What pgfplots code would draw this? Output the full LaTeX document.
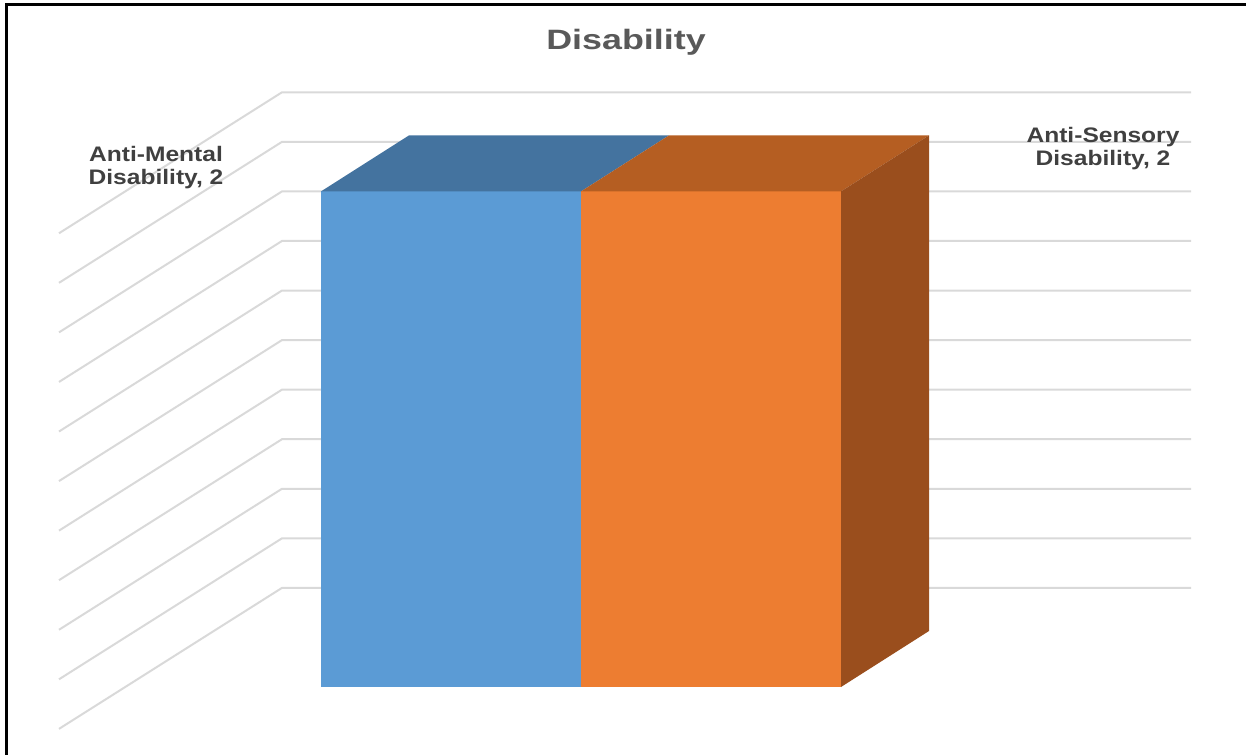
\documentclass[border=0pt]{standalone}
\usepackage{pgfplots}
\pgfplotsset{compat=1.18}
\usepackage{graphicx}
\usepackage{fontspec}
\setmainfont{Liberation Sans}
\definecolor{gridc}{HTML}{D9D9D9}
\definecolor{bfront}{HTML}{5B9BD5}
\definecolor{btop}{HTML}{44739F}
\definecolor{ofront}{HTML}{ED7D31}
\definecolor{otop}{HTML}{B55E22}
\definecolor{oside}{HTML}{9A4E1D}
\definecolor{titlec}{HTML}{595959}
\definecolor{labc}{HTML}{404040}
\newcommand{\hs}[1]{\scalebox{1.17}[1]{#1}}
\begin{document}
\begin{tikzpicture}
\begin{axis}[
  scale only axis, width=623bp, height=377.5bp,
  xmin=0, xmax=1246, ymin=-0.2744, ymax=2.7724,
  hide axis, clip=false,
]
% border (left and top)
\addplot[black, line width=1.5bp, forget plot] coordinates {(6,-0.2744) (6,2.7522) (1246,2.7522)};
% back wall grid lines
\foreach \v in {0.4,0.6,0.8,1.0,1.2,1.4,1.6,1.8,2.0,2.2,2.4}{
  \edef\tmp{\noexpand\addplot[gridc, line width=1bp, forget plot] coordinates {(59,\v-0.569) (282,\v) (1191,\v)};}
  \tmp
}
% blue bar (Anti-Mental Disability = 2)
\addplot[fill=bfront, draw=none, forget plot] coordinates {(321,0) (581,0) (581,2) (321,2)} -- cycle;
\addplot[fill=btop, draw=none, forget plot] coordinates {(321,2) (581,2) (669,2.226) (409,2.226)} -- cycle;
% orange bar (Anti-Sensory Disability = 2)
\addplot[fill=ofront, draw=none, forget plot] coordinates {(581,0) (841,0) (841,2) (581,2)} -- cycle;
\addplot[fill=otop, draw=none, forget plot] coordinates {(581,2) (841,2) (929,2.226) (669,2.226)} -- cycle;
\addplot[fill=oside, draw=none, forget plot] coordinates {(841,0) (929,0.226) (929,2.226) (841,2)} -- cycle;
% title and labels
\node[font=\bfseries\fontsize{14bp}{17bp}\selectfont, text=titlec, anchor=base] at (axis cs:626,{(687-50)/247.8}) {\scalebox{1.28}[1]{Disability}};
\node[font=\bfseries\fontsize{10.5bp}{11.5bp}\selectfont, text=labc, align=center, anchor=base] at (axis cs:156,{(687-185)/247.8}) {\hs{Anti-Mental}\\\hs{Disability, 2}};
\node[font=\bfseries\fontsize{10.5bp}{11.5bp}\selectfont, text=labc, align=center, anchor=base] at (axis cs:1103,{(687-166)/247.8}) {\hs{Anti-Sensory}\\\hs{Disability, 2}};
\end{axis}
\pgfresetboundingbox
\path (current axis.south west) rectangle (current axis.north east);
\end{tikzpicture}
\end{document}
